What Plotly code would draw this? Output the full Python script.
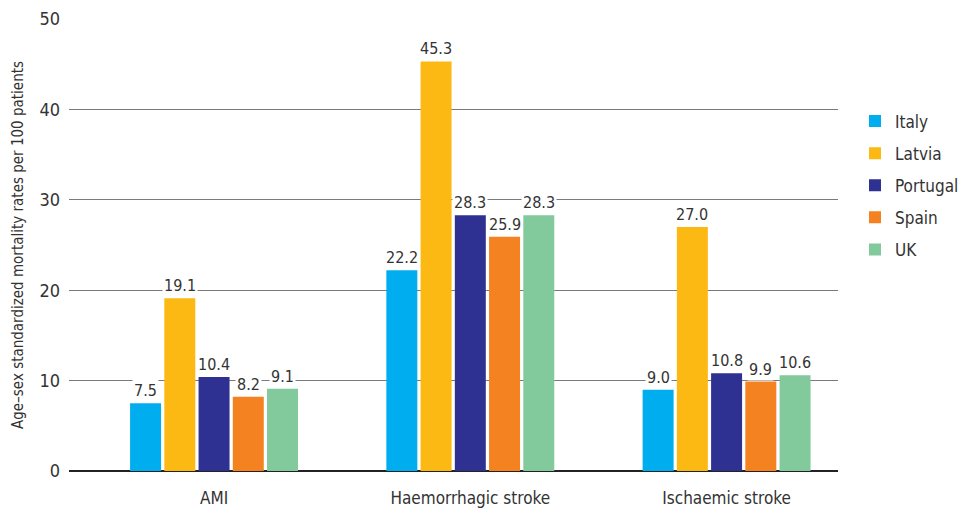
import plotly.graph_objects as go

categories = ["AMI", "Haemorrhagic stroke", "Ischaemic stroke"]
countries = ["Italy", "Latvia", "Portugal", "Spain", "UK"]
italy = [7.5, 22.2, 9.0]
latvia = [19.1, 45.3, 27.0]
portugal = [10.4, 28.3, 10.8]
spain = [8.2, 25.9, 9.9]
uk = [9.1, 28.3, 10.6]
colors = ["#00AEEF", "#FDB913", "#2E3192", "#F58220", "#82CA9C"]
series = [italy, latvia, portugal, spain, uk]

FONT = "DejaVu Sans Condensed, Liberation Sans Narrow, sans-serif"
BARGAP = 0.332
n = len(countries)
slot = (1 - BARGAP) / n

fig = go.Figure()
for i, (name, vals, col) in enumerate(zip(countries, series, colors)):
    fig.add_trace(go.Bar(x=list(range(len(categories))), y=vals, name=name,
                         marker=dict(color=col, line=dict(width=0)),
                         legendgroup=name))
    for j, v in enumerate(vals):
        fig.add_annotation(x=j + (i - (n - 1) / 2) * slot, y=v, xref="x", yref="y",
                           text=f"{v:.1f}", showarrow=False, yanchor="bottom",
                           yshift=1, bgcolor="white", borderpad=1,
                           font=dict(family=FONT, size=16, color="#333333"))

fig.update_layout(
    width=964, height=511,
    margin=dict(l=69, r=0, t=19, b=40),
    plot_bgcolor="white", paper_bgcolor="white",
    barmode="group", bargap=BARGAP, bargroupgap=0.095,
    font=dict(family=FONT, color="#333333"),
    legend=dict(x=1.0, y=0.813, xanchor="right", yanchor="top",
                font=dict(family=FONT, size=17, color="#333333"),
                traceorder="grouped", tracegroupgap=7),
    xaxis=dict(domain=[0, 0.859], automargin=False,
               tickmode="array", tickvals=list(range(len(categories))),
               ticktext=categories, range=[-0.566, 2.434],
               tickfont=dict(family=FONT, size=17, color="#333333"),
               ticklabelstandoff=15,
               showgrid=False, zeroline=False, showline=False, ticks=""),
    yaxis=dict(range=[0, 50], dtick=10, showgrid=True, gridcolor="#7a7a7a",
               gridwidth=1.3, zeroline=True, zerolinecolor="#222222",
               zerolinewidth=1.5, automargin=False,
               tickfont=dict(family=FONT, size=18, color="#333333"),
               ticklabelstandoff=8,
               title=dict(text="Age–sex standardized mortality rates per 100 patients",
                          font=dict(family=FONT, size=15, color="#333333"),
                          standoff=12)),
)

fig.write_html("out.html")
